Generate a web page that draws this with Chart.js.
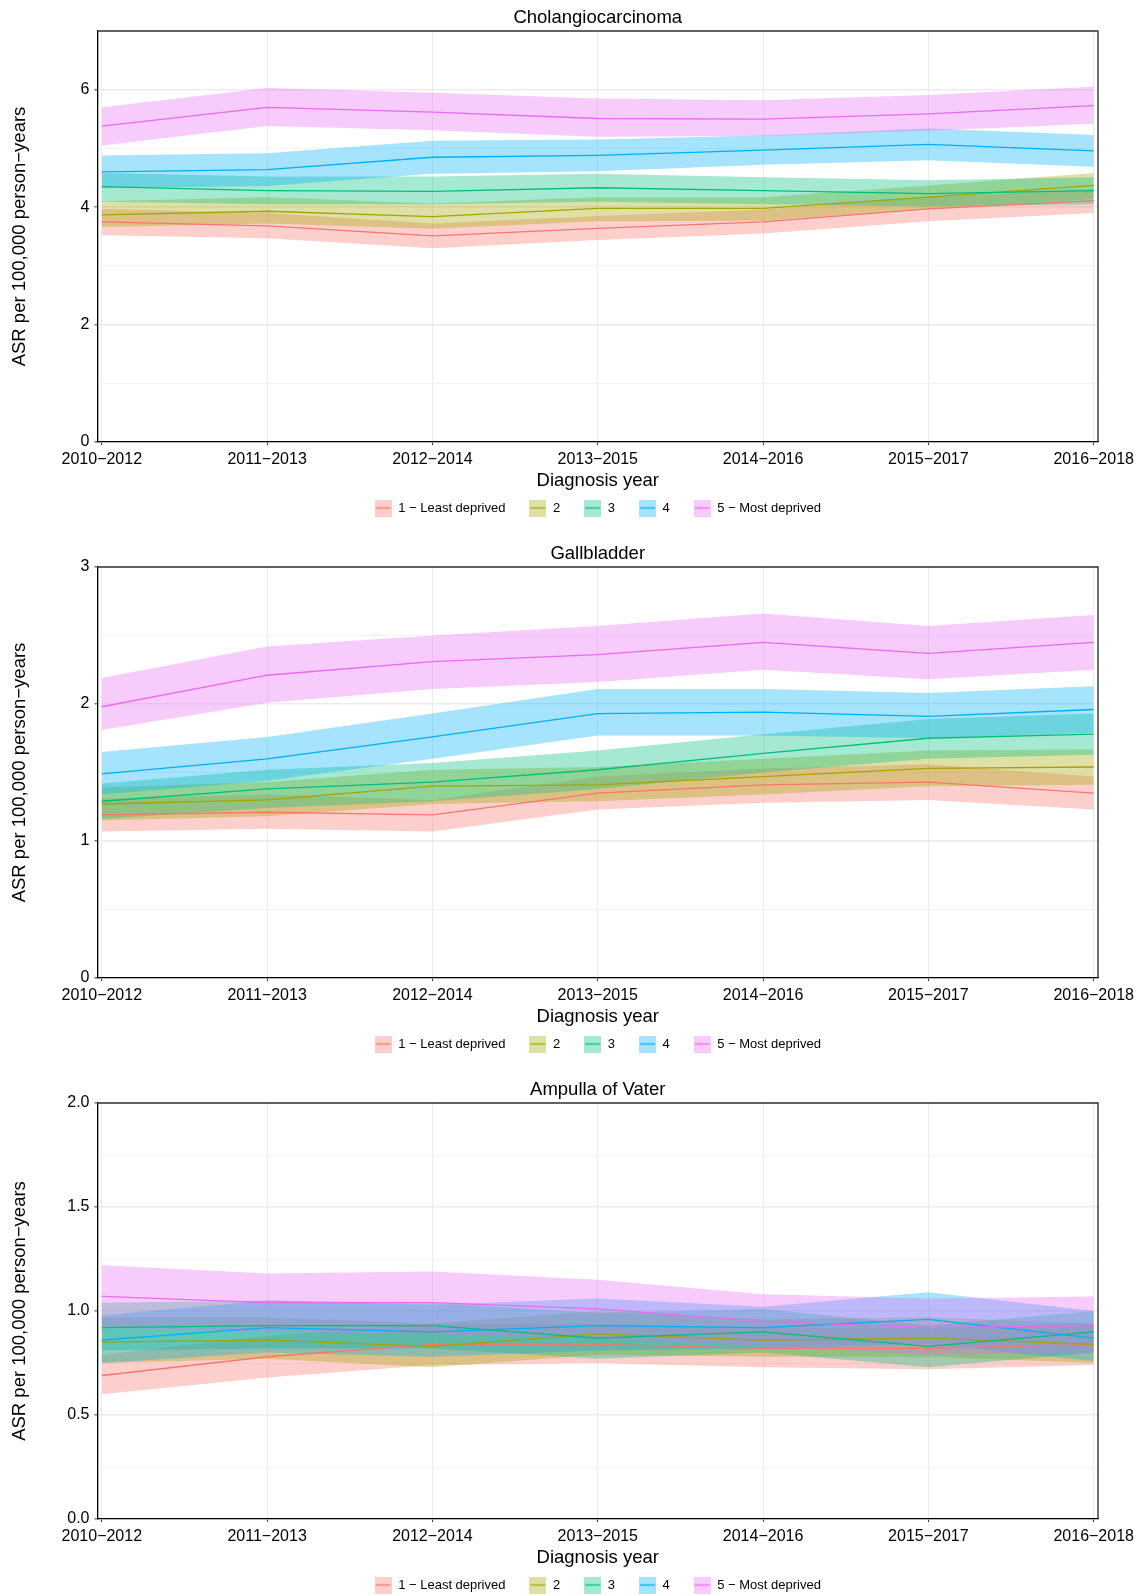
<!DOCTYPE html>
<html>
<head>
<meta charset="utf-8">
<script src="https://cdn.jsdelivr.net/npm/chart.js@4.4.1/dist/chart.umd.min.js"></script>
<style>
html, body { margin: 0; padding: 0; background: #fff; overflow: hidden; }
.panel { position: absolute; left: 0; width: 1141px; }
</style>
</head>
<body>
<div class="panel" style="top:0px;height:535px"><canvas id="chol"></canvas></div>
<div class="panel" style="top:536px;height:535px"><canvas id="gall"></canvas></div>
<div class="panel" style="top:1072px;height:530px"><canvas id="ampulla"></canvas></div>
<script>
const years = ['2010−2012', '2011−2013', '2012−2014', '2013−2015', '2014−2016', '2015−2017', '2016−2018']
const groups = ['1 − Least deprived', '2', '3', '4', '5 − Most deprived']
const colors = ['#F8766D', '#A3A500', '#00BF7D', '#00B0F6', '#E76BF3']

// Cholangiocarcinoma: estimate, lower and upper CI per deprivation group
const cholEst = [
    [3.75, 3.68, 3.51, 3.64, 3.75, 3.97, 4.11],
    [3.87, 3.93, 3.84, 3.98, 3.98, 4.17, 4.37],
    [4.35, 4.28, 4.27, 4.33, 4.28, 4.23, 4.28],
    [4.60, 4.64, 4.85, 4.88, 4.97, 5.07, 4.96],
    [5.38, 5.70, 5.62, 5.51, 5.50, 5.59, 5.73]
]
const cholLo = [
    [3.52, 3.47, 3.30, 3.44, 3.55, 3.76, 3.90],
    [3.66, 3.72, 3.63, 3.76, 3.77, 3.97, 4.14],
    [4.09, 4.05, 4.05, 4.09, 4.05, 4.01, 4.05],
    [4.32, 4.36, 4.57, 4.61, 4.72, 4.80, 4.69],
    [5.05, 5.38, 5.31, 5.20, 5.21, 5.30, 5.42]
]
const cholHi = [
    [3.97, 3.90, 3.72, 3.85, 3.96, 4.17, 4.31],
    [4.10, 4.17, 4.06, 4.17, 4.17, 4.37, 4.58],
    [4.58, 4.52, 4.52, 4.57, 4.51, 4.46, 4.51],
    [4.88, 4.92, 5.13, 5.15, 5.22, 5.34, 5.23],
    [5.70, 6.03, 5.95, 5.85, 5.82, 5.91, 6.05]
]

// Gallbladder
const gallEst = [
    [1.19, 1.21, 1.19, 1.35, 1.41, 1.43, 1.35],
    [1.27, 1.30, 1.40, 1.41, 1.47, 1.53, 1.54],
    [1.29, 1.38, 1.43, 1.52, 1.64, 1.75, 1.78],
    [1.49, 1.60, 1.76, 1.93, 1.94, 1.91, 1.96],
    [1.98, 2.21, 2.31, 2.36, 2.45, 2.37, 2.45]
]
const gallLo = [
    [1.07, 1.09, 1.07, 1.23, 1.28, 1.30, 1.23],
    [1.15, 1.18, 1.27, 1.29, 1.34, 1.40, 1.41],
    [1.16, 1.24, 1.29, 1.38, 1.50, 1.60, 1.63],
    [1.34, 1.44, 1.60, 1.77, 1.77, 1.75, 1.79],
    [1.81, 2.01, 2.11, 2.16, 2.25, 2.18, 2.25]
]
const gallHi = [
    [1.31, 1.34, 1.30, 1.47, 1.53, 1.56, 1.47],
    [1.39, 1.43, 1.52, 1.54, 1.60, 1.66, 1.67],
    [1.42, 1.52, 1.57, 1.66, 1.78, 1.89, 1.93],
    [1.65, 1.76, 1.93, 2.11, 2.11, 2.08, 2.13],
    [2.19, 2.42, 2.50, 2.57, 2.66, 2.57, 2.65]
]

// Ampulla of Vater
const ampEst = [
    [0.69, 0.78, 0.84, 0.84, 0.82, 0.82, 0.84],
    [0.85, 0.86, 0.83, 0.89, 0.86, 0.87, 0.84],
    [0.92, 0.93, 0.93, 0.87, 0.90, 0.83, 0.90],
    [0.86, 0.92, 0.90, 0.93, 0.92, 0.96, 0.87],
    [1.07, 1.04, 1.04, 1.01, 0.95, 0.92, 0.93]
]
const ampLo = [
    [0.60, 0.68, 0.74, 0.75, 0.73, 0.72, 0.74],
    [0.75, 0.77, 0.73, 0.79, 0.78, 0.78, 0.75],
    [0.81, 0.82, 0.82, 0.77, 0.80, 0.73, 0.80],
    [0.75, 0.80, 0.78, 0.81, 0.82, 0.84, 0.76],
    [0.92, 0.90, 0.89, 0.87, 0.83, 0.79, 0.80]
]
const ampHi = [
    [0.79, 0.88, 0.94, 0.94, 0.92, 0.92, 0.94],
    [0.97, 0.97, 0.94, 1.00, 0.96, 0.97, 0.94],
    [1.04, 1.05, 1.04, 0.99, 1.01, 0.93, 1.00],
    [0.98, 1.05, 1.03, 1.06, 1.02, 1.09, 1.00],
    [1.22, 1.18, 1.19, 1.15, 1.08, 1.06, 1.07]
]

Chart.defaults.font.family = '"Liberation Sans", Arial, Helvetica, sans-serif'
Chart.defaults.color = '#000'

function withAlpha(hex, a) {
    const n = parseInt(hex.slice(1), 16)
    return `rgba(${n >> 16}, ${(n >> 8) & 255}, ${n & 255}, ${a})`
}

// little legend keys: ribbon square with the line through it
function legendKey(color) {
    const c = document.createElement('canvas')
    c.width = 17
    c.height = 17
    const g = c.getContext('2d')
    g.fillStyle = withAlpha(color, 0.35)
    g.fillRect(0, 0, 17, 17)
    g.strokeStyle = color
    g.lineWidth = 1.3
    g.beginPath()
    g.moveTo(1, 8.5)
    g.lineTo(16, 8.5)
    g.stroke()
    return c
}
const keys = colors.map(legendKey)

const framePlugin = {
    id: 'frame',
    afterDraw(chart) {
        const {ctx, chartArea: a} = chart
        ctx.save()
        ctx.strokeStyle = '#333'
        ctx.lineWidth = 1.4
        ctx.beginPath()
        ctx.moveTo(a.left, a.top)
        ctx.lineTo(a.right, a.top)
        ctx.lineTo(a.right, a.bottom)
        ctx.stroke()
        ctx.restore()
    }
}

function toPoints(arr) {
    return arr.map((v, i) => ({x: i, y: v}))
}

function makePanel(id, title, est, lo, hi, yMax, yStep, isMajor, fmt, padBottom) {
    const datasets = []
    groups.forEach((name, g) => {
        datasets.push({
            label: name + ' upper',
            data: toPoints(hi[g]),
            borderWidth: 0,
            borderColor: 'transparent',
            backgroundColor: withAlpha(colors[g], 0.35),
            pointRadius: 0,
            fill: '+1',
            order: 20 - g
        })
        datasets.push({
            label: name + ' lower',
            data: toPoints(lo[g]),
            borderWidth: 0,
            borderColor: 'transparent',
            pointRadius: 0,
            fill: false,
            order: 20 - g
        })
        datasets.push({
            label: name,
            data: toPoints(est[g]),
            borderColor: colors[g],
            borderWidth: 1.3,
            pointRadius: 0,
            fill: false,
            tension: 0,
            order: 10 - g
        })
    })

    new Chart(document.getElementById(id), {
        type: 'line',
        data: {datasets: datasets},
        plugins: [framePlugin],
        options: {
            responsive: true,
            maintainAspectRatio: false,
            animation: false,
            events: [],
            layout: {padding: {left: 0, right: 43, top: 0, bottom: padBottom}},
            scales: {
                x: {
                    type: 'linear',
                    min: -0.026,
                    max: 6.026,
                    afterBuildTicks: s => { s.ticks = years.map((_, i) => ({value: i})) },
                    afterFit: s => { s.height = 35.5 },
                    ticks: {
                        callback: v => years[v],
                        font: {size: 16},
                        color: '#000',
                        padding: 5,
                        maxRotation: 0,
                        autoSkip: false
                    },
                    grid: {
                        color: '#ebebeb',
                        lineWidth: 1,
                        tickLength: 3,
                        tickColor: '#333',
                        tickWidth: 1
                    },
                    border: {display: true, color: '#000', width: 1.3},
                    title: {
                        display: true,
                        text: 'Diagnosis year',
                        font: {size: 18.5},
                        color: '#000',
                        padding: {top: 0, bottom: -14.4}
                    }
                },
                y: {
                    min: 0,
                    max: yMax,
                    afterFit: s => { s.width = 97.5 },
                    ticks: {
                        stepSize: yStep,
                        callback: v => isMajor(v) ? fmt(v) : '',
                        font: {size: 16},
                        color: '#000',
                        padding: 5,
                        autoSkip: false
                    },
                    grid: {
                        color: c => isMajor(c.tick.value) ? '#ebebeb' : '#f2f2f2',
                        lineWidth: c => isMajor(c.tick.value) ? 1.6 : 0.9,
                        tickLength: 3,
                        tickColor: c => isMajor(c.tick.value) ? '#333' : 'rgba(0,0,0,0)',
                        tickWidth: 1
                    },
                    border: {display: true, color: '#000', width: 1.3},
                    title: {
                        display: true,
                        text: 'ASR per 100,000 person−years',
                        font: {size: 18.5},
                        color: '#000',
                        padding: {top: 9, bottom: 0}
                    }
                }
            },
            plugins: {
                title: {
                    display: true,
                    text: title,
                    fullSize: false,
                    font: {size: 18.5, weight: 'normal'},
                    color: '#000',
                    padding: {top: 6.8, bottom: 2}
                },
                legend: {
                    position: 'bottom',
                    fullSize: false,
                    onClick: () => {},
                    labels: {
                        usePointStyle: true,
                        pointStyleWidth: 17,
                        padding: 24,
                        font: {size: 13},
                        color: '#000',
                        generateLabels: () => groups.map((name, g) => ({
                            text: name,
                            fillStyle: withAlpha(colors[g], 0.35),
                            strokeStyle: colors[g],
                            lineWidth: 0,
                            pointStyle: keys[g],
                            hidden: false,
                            datasetIndex: g * 3 + 2
                        }))
                    }
                },
                tooltip: {enabled: false}
            }
        }
    })
}

makePanel('chol', 'Cholangiocarcinoma', cholEst, cholLo, cholHi, 7, 1,
    v => v % 2 === 0, v => String(v), 10.5)
makePanel('gall', 'Gallbladder', gallEst, gallLo, gallHi, 3, 0.5,
    v => Math.abs(v - Math.round(v)) < 1e-6, v => String(Math.round(v)), 10.5)
makePanel('ampulla', 'Ampulla of Vater', ampEst, ampLo, ampHi, 2, 0.25,
    v => Math.abs(v * 2 - Math.round(v * 2)) < 1e-6, v => v.toFixed(1), 0.5)
</script>
</body>
</html>
